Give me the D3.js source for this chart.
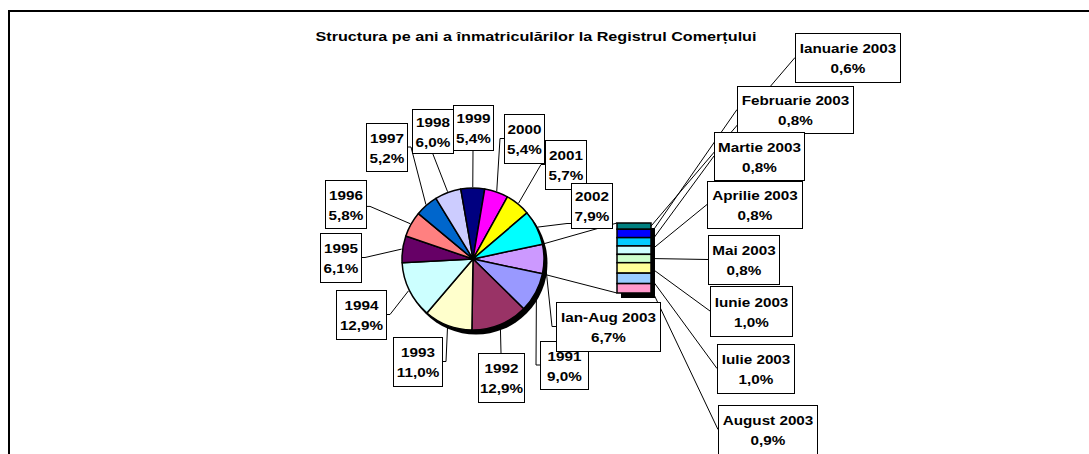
<!DOCTYPE html>
<html><head><meta charset="utf-8">
<script src="https://cdn.jsdelivr.net/npm/d3@7"></script>
<style>
html,body{margin:0;padding:0;background:#fff;}
svg{display:block;font-family:"Liberation Sans",Arial,sans-serif;}
</style></head>
<body>
<script>
// ---- data ----
const title = "Structura pe ani a înmatriculărilor la Registrul Comerțului";
const years = ["1991","1992","1993","1994","1995","1996","1997","1998","1999","2000","2001","2002"];
const yearShares = [9.0,12.9,11.0,12.9,6.1,5.8,5.2,6.0,5.4,5.4,5.7,7.9];
const otherName = "Ian-Aug 2003";
const otherShare = 6.7;
const months = ["Ianuarie 2003","Februarie 2003","Martie 2003","Aprilie 2003","Mai 2003","Iunie 2003","Iulie 2003","August 2003"];
const monthShares = [0.6,0.8,0.8,0.8,0.8,1.0,1.0,0.9];

// ---- styles ----
const yearColors = ["#9999FF","#993366","#FFFFCC","#CCFFFF","#660066","#FF8080","#0066CC","#CCCCFF","#000080","#FF00FF","#FFFF00","#00FFFF"];
const otherColor = "#CC99FF";
const monthColors = ["#008080","#0000FF","#00CCFF","#CCFFFF","#CCFFCC","#FFFF99","#99CCFF","#FF99CC"];

// ---- layout (label boxes: x, y, w, h, attach side, attach fraction) ----
const yearBoxes = [
  [540,341,48,48,"l",0.5],[478,353,46,49,"t",0.5],[393,337,49,49,"r",0.5],[336,290,50,49,"r",0.5],
  [320,233,41,49,"r",0.5],[325,180,41,48,"r",0.55],[366,123,41,48,"r",0.5],[412,109,41,44,"b",0.5],
  [453,105,40,45,"b",0.5],[504,114,40,49,"l",0.5],[545,140,41,49,"l",0.5],[571,183,41,45,"l",0.9]
];
const otherBox = [556,302,104,49,"l",0.5];
const monthBoxes = [
  [795,33,105,49],[737,86,116,47],[714,132,90,48],[707,181,95,47],
  [708,235,71,49],[710,286,82,50],[717,344,77,49],[718,405,99,49]
];

const W = 1089, H = 454;
const svg = d3.select("body").append("svg").attr("width",W).attr("height",H);

// frame
svg.append("path").attr("d","M9,"+H+" V11 H"+W).attr("fill","none").attr("stroke","#000").attr("stroke-width",2);

// title
svg.append("text").attr("x",536).attr("y",41).attr("text-anchor","middle")
  .attr("font-size","13px").attr("font-weight","bold")
  .attr("textLength",441).attr("lengthAdjust","spacingAndGlyphs").text(title);

// pie
const cx = 473, cy = 259, R = 71;
const pieData = [{name:otherName, v:otherShare, c:otherColor}]
  .concat(years.map((y,i)=>({name:y, v:yearShares[i], c:yearColors[i]})));
const a0 = (90 - otherShare*1.8) * Math.PI/180;
const pie = d3.pie().sort(null).value(d=>d.v).startAngle(a0).endAngle(a0+2*Math.PI);
const arcs = pie(pieData);
const arc = d3.arc().innerRadius(0).outerRadius(R);
const pt = (ang, r) => [cx + r*Math.sin(ang), cy - r*Math.cos(ang)];

// connector lines pie -> bar
const barX = 617, barY = 223, barW = 34;
const total = d3.sum(monthShares);
const hs = d3.scaleLinear().domain([0,total]).range([0,70]);
const barH = hs(total);
const otherArc = arcs[0];
const gl = svg.append("g").attr("stroke","#000").attr("stroke-width",1).attr("fill","none");
gl.append("line").attr("x1",pt(otherArc.startAngle,R)[0]).attr("y1",pt(otherArc.startAngle,R)[1]).attr("x2",barX).attr("y2",barY);
gl.append("line").attr("x1",pt(otherArc.endAngle,R)[0]).attr("y1",pt(otherArc.endAngle,R)[1]).attr("x2",barX).attr("y2",barY+barH);

// pie label leaders
function leader(ang, box){
  const [bx,by,bw,bh,side,f] = box;
  const p = pt(ang, R+1);
  let pts;
  if(side==="r"){ const y=by+bh*f; pts=[p,[bx+bw+4,y],[bx+bw,y]]; }
  else if(side==="l"){ const y=by+bh*f; pts=[p,[bx-4,y],[bx,y]]; }
  else if(side==="b"){ pts=[p,[bx+bw*f,by+bh]]; }
  else { pts=[p,[bx+bw*f,by]]; }
  gl.append("path").attr("d",d3.line()(pts));
}
leader((otherArc.startAngle+otherArc.endAngle)/2, otherBox);
arcs.slice(1).forEach((a,i)=>leader((a.startAngle+a.endAngle)/2, yearBoxes[i]));

// month leaders
let cum = 0;
const segs = monthShares.map((v,i)=>{ const s={y:barY+hs(cum), h:hs(v), i}; cum+=v; return s; });
segs.forEach(s=>{
  const b = monthBoxes[s.i];
  gl.append("line").attr("x1",barX+barW).attr("y1",s.y+s.h/2).attr("x2",b[0]).attr("y2",b[1]+b[3]/2);
});

// pie shadow + slices
const gp = svg.append("g").attr("transform",`translate(${cx},${cy})`);
gp.append("circle").attr("cx",3).attr("cy",4).attr("r",R+0.5).attr("fill","#000");
gp.selectAll("path.slice").data(arcs).join("path").attr("class","slice")
  .attr("d",arc).attr("fill",d=>d.data.c).attr("stroke","#000").attr("stroke-width",1.5).attr("stroke-linejoin","round");

// bar shadow + segments
svg.append("rect").attr("x",barX+4).attr("y",barY+5).attr("width",barW).attr("height",barH).attr("fill","#000");
svg.selectAll("rect.seg").data(segs).join("rect").attr("class","seg")
  .attr("x",barX).attr("y",d=>d.y).attr("width",barW).attr("height",d=>d.h)
  .attr("fill",d=>monthColors[d.i]).attr("stroke","#000").attr("stroke-width",1.5);

// label boxes
function labelBox(box, l1, l2){
  const [bx,by,bw,bh] = box;
  const g = svg.append("g");
  g.append("rect").attr("x",bx+0.5).attr("y",by+0.5).attr("width",bw).attr("height",bh)
    .attr("fill","#fff").attr("stroke","#000").attr("stroke-width",1);
  const mx = bx+bw/2+0.5, my = by+bh/2;
  [[l1,my-4.5],[l2,my+15.5]].forEach(([t,y])=>{
    g.append("text").attr("transform",`translate(${mx},${y}) scale(1.13,1)`).attr("text-anchor","middle")
      .attr("font-size","13.5px").attr("font-weight","bold").text(t);
  });
}
const fmt = v => v.toFixed(1).replace(".",",")+"%";
years.forEach((y,i)=>labelBox(yearBoxes[i], y, fmt(yearShares[i])));
labelBox(otherBox, otherName, fmt(otherShare));
months.forEach((m,i)=>labelBox(monthBoxes[i], m, fmt(monthShares[i])));
</script>
</body></html>
